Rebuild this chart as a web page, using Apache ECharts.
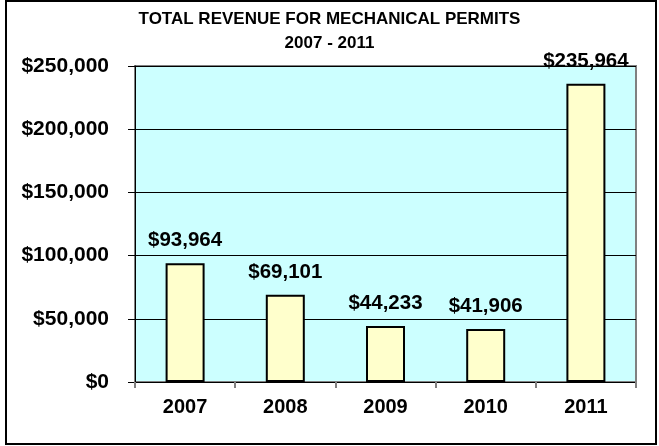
<!DOCTYPE html>
<html><head><meta charset="utf-8">
<script src="https://cdn.jsdelivr.net/npm/echarts@6/dist/echarts.min.js"></script>
<style>html,body{margin:0;padding:0;background:#fff}#c{width:659px;height:446px}</style>
</head><body><div id="c"></div>
<script>
const categories = ['2007', '2008', '2009', '2010', '2011'];
const revenue = [93964, 69101, 44233, 41906, 235964];
const titleLines = ['TOTAL REVENUE FOR MECHANICAL PERMITS', '2007 - 2011'];

function money(v) {
  return '$' + String(Math.round(v)).replace(/\B(?=(\d{3})+(?!\d))/g, ',');
}
const FONT = '"Liberation Sans", Arial, sans-serif';
const chart = echarts.init(document.getElementById('c'), null, {renderer: 'canvas'});
chart.setOption({
  animation: false,
  backgroundColor: '#ffffff',
  title: {
    text: titleLines.join('\n'),
    left: 'center',
    top: 2,
    textStyle: {fontFamily: FONT, fontSize: 17, fontWeight: 'bold', color: '#000', lineHeight: 24}
  },
  graphic: [{
    type: 'rect',
    shape: {x: 6, y: 1, width: 650, height: 443},
    style: {fill: 'none', stroke: '#000', lineWidth: 2},
    silent: true
  }],
  grid: {
    left: 135, top: 66, right: 23, bottom: 64,
    show: true, backgroundColor: '#CCFFFF', borderColor: '#808080', borderWidth: 2
  },
  xAxis: {
    type: 'category',
    data: categories,
    axisLine: {lineStyle: {color: '#000', width: 1}},
    axisTick: {show: true, alignWithLabel: false, length: 6, lineStyle: {color: '#808080', width: 2}},
    axisLabel: {fontFamily: FONT, fontSize: 20, fontWeight: 'bold', color: '#000', margin: 15}
  },
  yAxis: {
    type: 'value',
    min: 0, max: 250000, interval: 50000,
    axisLine: {show: true, lineStyle: {color: '#000', width: 1}},
    axisTick: {show: true, length: 7, lineStyle: {color: '#000'}},
    splitLine: {show: true, lineStyle: {color: '#000', width: 1}},
    axisLabel: {fontFamily: FONT, fontSize: 21, fontWeight: 'bold', color: '#000', margin: 26,
      formatter: v => money(v)}
  },
  series: [{
    type: 'bar',
    data: revenue,
    barWidth: 39,
    itemStyle: {color: '#FFFFCC', borderColor: '#000', borderWidth: 2},
    label: {
      show: true, position: 'top', distance: 12,
      fontFamily: FONT, fontSize: 20.5, fontWeight: 'bold', color: '#000',
      formatter: p => money(p.value)
    }
  }]
});
</script></body></html>
